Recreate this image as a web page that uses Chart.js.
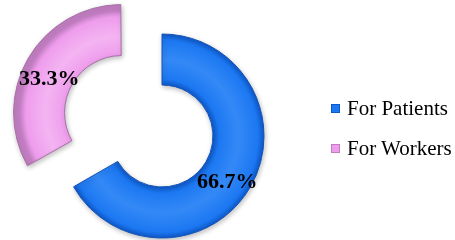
<!DOCTYPE html>
<html><head><meta charset="utf-8">
<script src="https://cdn.jsdelivr.net/npm/chart.js@4.4.0/dist/chart.umd.min.js"></script>
<style>
html,body{margin:0;padding:0;background:#fff;}
#wrap{position:relative;width:455px;height:240px;overflow:hidden;}
#legend{position:absolute;left:331px;top:88px;font-family:'Liberation Serif','Times New Roman',serif;font-size:21px;color:#000;}
.li{display:flex;align-items:center;height:40px;white-space:nowrap;}
.sw{width:9px;height:9px;margin-right:7px;box-sizing:border-box;}
</style>
</head><body>
<div id="wrap"><canvas id="c" width="455" height="240"></canvas><div id="legend"></div></div>
<script>
const labels=['For Patients','For Workers'];
const values=[66.7,33.3];
const baseCols=['#1c78f2','#ee9cec'];
const lightCols=['#3489f6','#f4b4f2'];
const darkCols=['#0e58c8','#c27ec2'];
const edgeCols=['#1453b8','#a870a8'];
const explode=[0,186];

// custom legend
const lg=document.getElementById('legend');
lg.innerHTML=labels.map((l,i)=>`<div class="li"><span class="sw" style="background:${baseCols[i]};border:1px solid ${darkCols[i]}"></span>${l}</div>`).join('');

function grad(c){
  const i=c.dataIndex;const ca=c.chart.chartArea;
  if(!ca)return baseCols[i];
  const cx=(ca.left+ca.right)/2,cy=(ca.top+ca.bottom)/2;
  const g=c.chart.ctx.createRadialGradient(cx,cy,51,cx,cy,102);
  g.addColorStop(0,darkCols[i]);g.addColorStop(0.12,baseCols[i]);
  g.addColorStop(0.5,lightCols[i]);g.addColorStop(0.88,baseCols[i]);g.addColorStop(1,darkCols[i]);
  return g;
}

// soft shadow under the ring
const ringShadow={id:'ringShadow',
  beforeDatasetsDraw(chart){const c=chart.ctx;c.save();c.shadowColor='rgba(0,0,0,0.25)';c.shadowBlur=5;c.shadowOffsetX=1;c.shadowOffsetY=2;},
  afterDatasetsDraw(chart){chart.ctx.restore();}
};

// percent labels drawn at the middle of each (exploded) ring piece
const pctLabels={id:'pctLabels',afterDatasetsDraw(chart){
  const ctx=chart.ctx,meta=chart.getDatasetMeta(0);
  ctx.save();
  ctx.font='bold 22px "Liberation Serif","Times New Roman",serif';
  ctx.fillStyle='#000';ctx.textAlign='center';ctx.textBaseline='middle';
  meta.data.forEach((arc,i)=>{
    const p=arc.getProps(['x','y','startAngle','endAngle','innerRadius','outerRadius','circumference'],true);
    const a=(p.startAngle+p.endAngle)/2;
    const fix=1-Math.sin(Math.min(Math.PI,p.circumference||0));
    const sh=explode[i]/4*(1+fix);
    const r=(p.innerRadius+p.outerRadius)/2+sh;
    ctx.fillText(values[i].toFixed(1)+'%',p.x+Math.cos(a)*r-1,p.y+Math.sin(a)*r+8);
  });
  ctx.restore();
}};

new Chart(document.getElementById('c'),{
  type:'doughnut',
  data:{labels,datasets:[{data:values,backgroundColor:grad,borderColor:edgeCols,borderWidth:1,offset:explode,hoverOffset:0}]},
  options:{
    responsive:false,animation:false,events:[],
    radius:102,cutout:'50%',
    layout:{padding:{left:0,right:131,top:32,bottom:0}},
    plugins:{legend:{display:false},tooltip:{enabled:false}}
  },
  plugins:[ringShadow,pctLabels]
});
</script>
</body></html>
